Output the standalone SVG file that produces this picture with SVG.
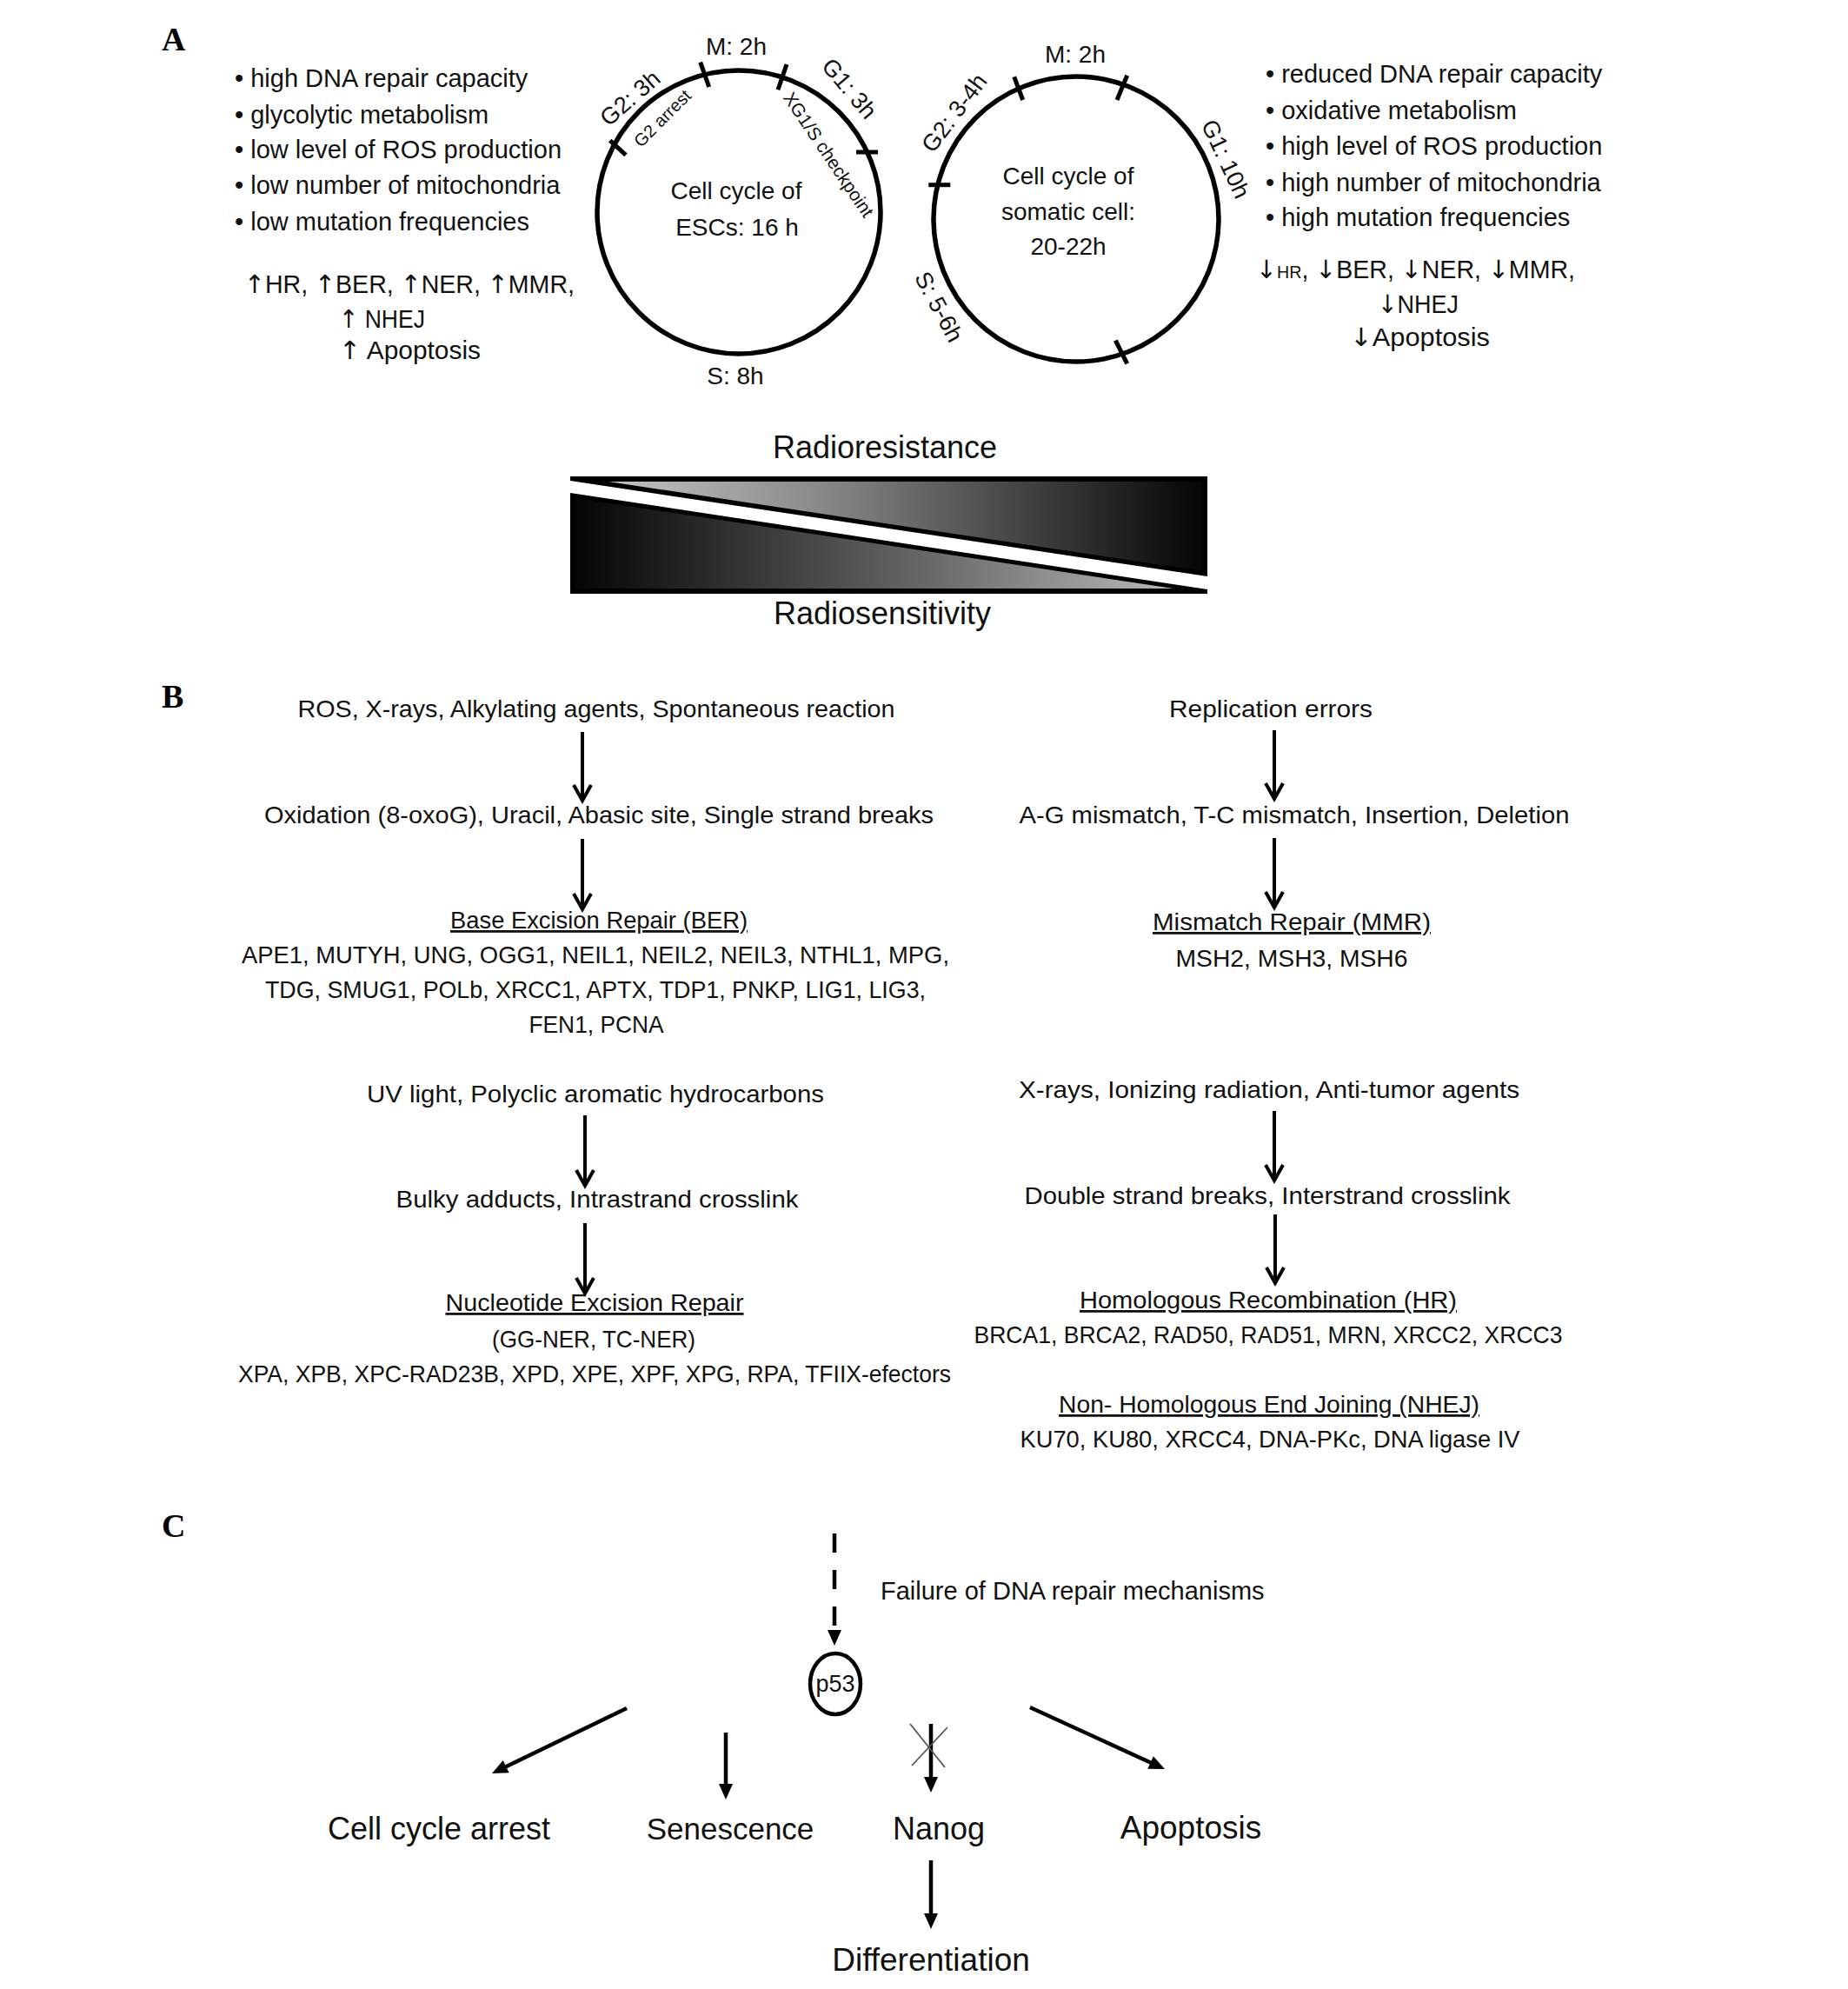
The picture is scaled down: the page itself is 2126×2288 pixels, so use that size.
<svg xmlns="http://www.w3.org/2000/svg" width="2126" height="2288" viewBox="0 0 2126 2288">
<style>
.t{font-family:'Liberation Sans',Arial,'DejaVu Sans',sans-serif;fill:#111;}
.c{text-anchor:middle;}
.f29{font-size:29px;}
.f28{font-size:28px;}
.f27{font-size:27px;}
.f36{font-size:36px;}
.u{text-decoration:underline;}
.ar{font-family:'DejaVu Sans',sans-serif;}
.lbl{font-family:'Liberation Serif','Times New Roman',serif;font-weight:bold;font-size:38px;fill:#000;}
.ring{fill:none;stroke:#000;stroke-width:5.5;}
.tick{stroke:#000;stroke-width:5;}
.arrB{stroke:#000;stroke-width:4;fill:none;marker-end:url(#chev);}
.arrC{stroke:#000;stroke-width:4.5;fill:none;marker-end:url(#tri);}
</style>
<defs>
<marker id="chev" markerUnits="userSpaceOnUse" markerWidth="24" markerHeight="24" refX="18" refY="11" orient="auto" overflow="visible">
<path d="M1,1 L19,11 L1,21" fill="none" stroke="#000" stroke-width="4"/>
</marker>
<marker id="tri" markerUnits="userSpaceOnUse" markerWidth="20" markerHeight="18" refX="12" refY="8" orient="auto" overflow="visible">
<path d="M0,0 L18,8 L0,16 Z" fill="#000"/>
</marker>
<linearGradient id="gUp" gradientUnits="userSpaceOnUse" x1="700" y1="0" x2="1383" y2="0">
<stop offset="0" stop-color="#c4c4c4"/><stop offset="0.35" stop-color="#8a8a8a"/><stop offset="1" stop-color="#050505"/>
</linearGradient>
<linearGradient id="gLo" gradientUnits="userSpaceOnUse" x1="662" y1="0" x2="1350" y2="0">
<stop offset="0" stop-color="#050505"/><stop offset="0.6" stop-color="#6a6a6a"/><stop offset="1" stop-color="#b8b8b8"/>
</linearGradient>
</defs>
<rect width="2126" height="2288" fill="#fff"/>

<!-- Panel labels -->
<text class="lbl" x="186" y="58">A</text>
<text class="lbl" x="186" y="814">B</text>
<text class="lbl" x="186" y="1768">C</text>

<!-- Panel A: ESC properties -->
<g id="esc-properties" class="t f29">
<text x="270" y="100">• high DNA repair capacity</text>
<text x="270" y="142">• glycolytic metabolism</text>
<text x="270" y="182">• low level of ROS production</text>
<text x="270" y="223">• low number of mitochondria</text>
<text x="270" y="265">• low mutation frequencies</text>
<text x="281" y="337" textLength="380" lengthAdjust="spacingAndGlyphs"><tspan class="ar">↑</tspan>HR, <tspan class="ar">↑</tspan>BER, <tspan class="ar">↑</tspan>NER, <tspan class="ar">↑</tspan>MMR,</text>
<text x="390" y="377" textLength="99" lengthAdjust="spacingAndGlyphs"><tspan class="ar">↑</tspan> NHEJ</text>
<text x="390" y="413" textLength="163" lengthAdjust="spacingAndGlyphs"><tspan class="ar">↑</tspan> Apoptosis</text>
</g>

<g id="esc-cycle" class="t f28">
<circle class="ring" cx="850" cy="244" r="163"/>
<line class="tick" x1="805.7" y1="71.7" x2="815.7" y2="100"/>
<line class="tick" x1="905" y1="74" x2="895" y2="103.3"/>
<line class="tick" x1="985" y1="175" x2="1010" y2="175"/>
<line class="tick" x1="701.7" y1="161.7" x2="720" y2="178.3"/>
<text class="c" x="847" y="63">M: 2h</text>
<text class="c" x="846" y="442">S: 8h</text>
<text class="c" x="847" y="229">Cell cycle of</text>
<text class="c" x="848" y="271">ESCs: 16 h</text>
<text class="c f27" transform="translate(725,113) rotate(-41)" y="9">G2: 3h</text>
<text class="c" font-size="20" transform="translate(762,136) rotate(-45)" y="7">G2 arrest</text>
<text class="c f27" transform="translate(977,102) rotate(50)" y="9">G1: 3h</text>
<text class="c" font-size="21" transform="translate(953,178) rotate(56)" y="7">XG1/S checkpoint</text>
</g>

<g id="somatic-cycle" class="t f28">
<circle class="ring" cx="1238" cy="252" r="164"/>
<line class="tick" x1="1166.7" y1="88.3" x2="1176.7" y2="115"/>
<line class="tick" x1="1296.7" y1="86.7" x2="1285" y2="115"/>
<line class="tick" x1="1068.3" y1="212.7" x2="1093.3" y2="212.7"/>
<line class="tick" x1="1283.3" y1="391.7" x2="1296.7" y2="418.3"/>
<text class="c" x="1237" y="72">M: 2h</text>
<text class="c" x="1229" y="212">Cell cycle of</text>
<text class="c" x="1229" y="253">somatic cell:</text>
<text class="c" x="1229" y="293">20-22h</text>
<text class="c f27" transform="translate(1098,130) rotate(-53)" y="9">G2: 3-4h</text>
<text class="c f27" transform="translate(1410,183) rotate(65)" y="9">G1: 10h</text>
<text class="c f27" transform="translate(1080,353) rotate(62)" y="9">S: 5-6h</text>
</g>

<g id="somatic-properties" class="t f29">
<text x="1456" y="95">• reduced DNA repair capacity</text>
<text x="1456" y="137">• oxidative metabolism</text>
<text x="1456" y="178">• high level of ROS production</text>
<text x="1456" y="220">• high number of mitochondria</text>
<text x="1456" y="260">• high mutation frequencies</text>
<text x="1445" y="320" textLength="367" lengthAdjust="spacingAndGlyphs"><tspan class="ar">↓</tspan><tspan font-size="20">HR</tspan>, <tspan class="ar">↓</tspan>BER, <tspan class="ar">↓</tspan>NER, <tspan class="ar">↓</tspan>MMR,</text>
<text x="1585" y="360" textLength="93" lengthAdjust="spacingAndGlyphs"><tspan class="ar">↓</tspan>NHEJ</text>
<text x="1553" y="398" textLength="161" lengthAdjust="spacingAndGlyphs"><tspan class="ar">↓</tspan>Apoptosis</text>
</g>

<g id="radio-bar">
<text class="t c f36" x="1018" y="527">Radioresistance</text>
<rect x="656" y="548" width="733" height="135" fill="#000"/>
<polygon points="656,553 1389,663 1389,678 656,567" fill="#fff"/>
<polygon points="700,554 1383,554 1383,657" fill="url(#gUp)"/>
<polygon points="662,573 662,677 1350,677" fill="url(#gLo)"/>
<text class="t c f36" x="1015" y="718">Radiosensitivity</text>
</g>

<!-- Panel B -->
<g id="ber-path" class="t c f28">
<text x="686" y="825" textLength="687" lengthAdjust="spacingAndGlyphs">ROS, X-rays, Alkylating agents, Spontaneous reaction</text>
<text x="689" y="947" textLength="770" lengthAdjust="spacingAndGlyphs">Oxidation (8-oxoG), Uracil, Abasic site, Single strand breaks</text>
<text class="u" x="689" y="1068" textLength="342" lengthAdjust="spacingAndGlyphs">Base Excision Repair (BER)</text>
<text x="685" y="1108" textLength="814" lengthAdjust="spacingAndGlyphs">APE1, MUTYH, UNG, OGG1, NEIL1, NEIL2, NEIL3, NTHL1, MPG,</text>
<text x="685" y="1148" textLength="760" lengthAdjust="spacingAndGlyphs">TDG, SMUG1, POLb, XRCC1, APTX, TDP1, PNKP, LIG1, LIG3,</text>
<text x="686" y="1188" textLength="155" lengthAdjust="spacingAndGlyphs">FEN1, PCNA</text>
</g>
<g id="mmr-path" class="t c f28">
<text x="1462" y="825" textLength="234" lengthAdjust="spacingAndGlyphs">Replication errors</text>
<text x="1489" y="947" textLength="633" lengthAdjust="spacingAndGlyphs">A-G mismatch, T-C mismatch, Insertion, Deletion</text>
<text class="u" x="1486" y="1070" textLength="320" lengthAdjust="spacingAndGlyphs">Mismatch Repair (MMR)</text>
<text x="1486" y="1112" textLength="267" lengthAdjust="spacingAndGlyphs">MSH2, MSH3, MSH6</text>
</g>
<g id="ner-path" class="t c f28">
<text x="685" y="1268" textLength="526" lengthAdjust="spacingAndGlyphs">UV light, Polyclic aromatic hydrocarbons</text>
<text x="687" y="1389" textLength="463" lengthAdjust="spacingAndGlyphs">Bulky adducts, Intrastrand crosslink</text>
<text class="u" x="684" y="1508" textLength="343" lengthAdjust="spacingAndGlyphs">Nucleotide Excision Repair</text>
<text x="683" y="1550" textLength="234" lengthAdjust="spacingAndGlyphs">(GG-NER, TC-NER)</text>
<text x="684" y="1590" textLength="820" lengthAdjust="spacingAndGlyphs">XPA, XPB, XPC-RAD23B, XPD, XPE, XPF, XPG, RPA, TFIIX-efectors</text>
</g>
<g id="dsb-path" class="t c f28">
<text x="1460" y="1263" textLength="576" lengthAdjust="spacingAndGlyphs">X-rays, Ionizing radiation, Anti-tumor agents</text>
<text x="1458" y="1385" textLength="559" lengthAdjust="spacingAndGlyphs">Double strand breaks, Interstrand crosslink</text>
<text class="u" x="1459" y="1505" textLength="434" lengthAdjust="spacingAndGlyphs">Homologous Recombination (HR)</text>
<text x="1459" y="1545" textLength="677" lengthAdjust="spacingAndGlyphs">BRCA1, BRCA2, RAD50, RAD51, MRN, XRCC2, XRCC3</text>
<text class="u" x="1460" y="1625" textLength="484" lengthAdjust="spacingAndGlyphs">Non- Homologous End Joining (NHEJ)</text>
<text x="1461" y="1665" textLength="575" lengthAdjust="spacingAndGlyphs">KU70, KU80, XRCC4, DNA-PKc, DNA ligase IV</text>
</g>

<!-- Panel C nodes -->
<g id="failure" class="t f29"><text x="1013" y="1840">Failure of DNA repair mechanisms</text></g>
<g id="p53">
<ellipse cx="961" cy="1937" rx="29" ry="35" fill="none" stroke="#000" stroke-width="4.5"/>
<text class="t c f27" x="961" y="1946">p53</text>
</g>
<g id="cell-cycle-arrest" class="t c f36"><text x="505" y="2116">Cell cycle arrest</text></g>
<g id="senescence" class="t c" font-size="35"><text x="840" y="2116">Senescence</text></g>
<g id="nanog" class="t c f36"><text x="1080" y="2116">Nanog</text></g>
<g id="apoptosis" class="t c" font-size="37"><text x="1370" y="2115">Apoptosis</text></g>
<g id="differentiation" class="t c" font-size="37"><text x="1071" y="2267">Differentiation</text></g>

<!-- Connectors -->
<g id="connectors">
<line class="arrB" x1="670" y1="842" x2="670" y2="920"/>
<line class="arrB" x1="670" y1="965" x2="670" y2="1045"/>
<line class="arrB" x1="673" y1="1283" x2="673" y2="1363"/>
<line class="arrB" x1="673" y1="1407" x2="673" y2="1487"/>
<line class="arrB" x1="1466" y1="840" x2="1466" y2="918"/>
<line class="arrB" x1="1466" y1="964" x2="1466" y2="1043"/>
<line class="arrB" x1="1466" y1="1278" x2="1466" y2="1357"/>
<line class="arrB" x1="1467" y1="1397" x2="1467" y2="1475"/>
<line class="arrC" x1="960" y1="1764" x2="960" y2="1887" stroke-width="5" stroke-dasharray="22 20"/>
<line class="arrC" x1="721" y1="1965" x2="571.4" y2="2037.4" stroke-width="5"/>
<line class="arrC" x1="835" y1="1993" x2="835" y2="2064"/>
<line class="arrC" x1="1071" y1="1983" x2="1071" y2="2056"/>
<line x1="1047" y1="1983" x2="1087" y2="2033" stroke="#555" stroke-width="1.8"/>
<line x1="1090" y1="1987" x2="1049" y2="2031" stroke="#555" stroke-width="1.8"/>
<line class="arrC" x1="1185" y1="1964" x2="1334.5" y2="2032.5" stroke-width="5"/>
<line class="arrC" x1="1071" y1="2140" x2="1071" y2="2213"/>
</g>
</svg>
